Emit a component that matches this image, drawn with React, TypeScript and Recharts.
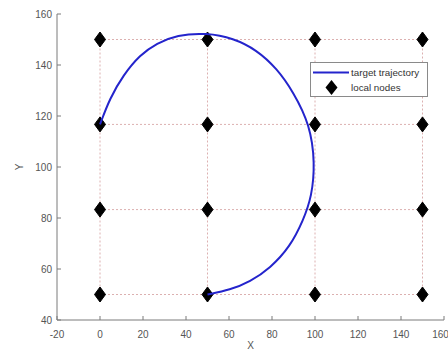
import React from 'react';
import {
  ScatterChart,
  Scatter,
  XAxis,
  YAxis,
  ReferenceLine,
} from 'recharts';

// Node grid coordinates
const nodeX = [0, 50, 100, 150];
const nodeY = [50, 83.3, 116.7, 150];

// Target trajectory
const trajX = [0, 4.6, 10.8, 18.6, 26.4, 35.7, 49.6, 62, 72.9, 82.2, 89.9, 97.7, 100, 98.5, 94.6, 88.4, 79.1, 69.8, 60.5, 50];
const trajY = [116.7, 127, 136, 144, 148.5, 151.8, 152.6, 150.5, 145.9, 138.7, 129.5, 116.5, 101.5, 88.4, 79.2, 68.7, 60.3, 55, 51.8, 50];

const xTicks = [-20, 0, 20, 40, 60, 80, 100, 120, 140, 160];
const yTicks = [40, 60, 80, 100, 120, 140, 160];

const legendItems = ['target trajectory', 'local nodes'];

const trajData = trajX.map((x, i) => ({ x, y: trajY[i] }));
const nodeData = nodeY.flatMap((y) => nodeX.map((x) => ({ x, y })));

const AXIS = '#7a7a7a';
const TICK = '#555';
const FONT = '"Liberation Sans", Arial, sans-serif';
const GRID = '#dcb0b0';
const BLUE = '#2424cc';

const Diamond = (props: any) => {
  const { cx, cy } = props;
  if (cx == null || cy == null) return <g />;
  const w = 5.5;
  const h = 7.5;
  return (
    <polygon
      points={`${cx},${cy - h} ${cx + w},${cy} ${cx},${cy + h} ${cx - w},${cy}`}
      fill="#000"
      stroke="#000"
      strokeWidth={1}
    />
  );
};

const LegendBox = () => (
  <div
    style={{
      position: 'absolute',
      left: 310,
      top: 62,
      width: 118,
      border: '1px solid #8a8a8a',
      background: '#fff',
      padding: '2px 0 1px 0',
      fontFamily: FONT,
      fontSize: 9.8,
      color: '#333',
      boxSizing: 'border-box',
    }}
  >
    {legendItems.map((name, i) => (
      <div key={name} style={{ display: 'flex', alignItems: 'center', height: 15 }}>
        <svg width={40} height={15} style={{ flex: 'none' }}>
          {i === 0 ? (
            <line x1={2} y1={7.5} x2={38} y2={7.5} stroke={BLUE} strokeWidth={2} />
          ) : (
            <polygon points="20.5,0 26.5,7.5 20.5,15 14.5,7.5" fill="#000" />
          )}
        </svg>
        <span style={{ marginLeft: 0, whiteSpace: 'nowrap' }}>{name}</span>
      </div>
    ))}
  </div>
);

export default function App() {
  return (
    <div style={{ position: 'absolute', left: 0, top: 0, width: 448, height: 354, background: '#fff' }}>
      <ScatterChart
        width={448}
        height={354}
        margin={{ top: 14, right: 4, bottom: 4, left: 0 }}
      >
        <XAxis
          xAxisId="b"
          type="number"
          dataKey="x"
          domain={[-20, 160]}
          ticks={xTicks}
          allowDataOverflow
          height={30}
          stroke={AXIS}
          tickSize={-4}
          tickMargin={15}
          tick={{ fill: TICK, fontSize: 10, fontFamily: FONT }}
          label={{ value: 'X', position: 'insideBottom', offset: 1, style: { fill: TICK, fontSize: 10, fontFamily: FONT } }}
        />
        <XAxis
          xAxisId="t"
          orientation="top"
          type="number"
          dataKey="x"
          domain={[-20, 160]}
          ticks={xTicks}
          allowDataOverflow
          height={0}
          mirror
          stroke={AXIS}
          tickSize={4}
          tick={false}
        />
        <YAxis
          yAxisId="l"
          type="number"
          dataKey="y"
          domain={[40, 160]}
          ticks={yTicks}
          allowDataOverflow
          width={57}
          stroke={AXIS}
          tickSize={-4}
          tickMargin={9}
          tick={{ fill: TICK, fontSize: 10, fontFamily: FONT }}
          label={{ value: 'Y', position: 'insideLeft', angle: -90, offset: 19, style: { fill: TICK, fontSize: 10, fontFamily: FONT, textAnchor: 'middle' } }}
        />
        <YAxis
          yAxisId="r"
          orientation="right"
          type="number"
          dataKey="y"
          domain={[40, 160]}
          ticks={yTicks}
          allowDataOverflow
          width={0}
          mirror
          stroke={AXIS}
          tickSize={4}
          tick={false}
        />
        {nodeY.map((y) => (
          <ReferenceLine
            key={'h' + y}
            xAxisId="b"
            yAxisId="l"
            segment={[
              { x: nodeX[0], y },
              { x: nodeX[nodeX.length - 1], y },
            ]}
            stroke={GRID}
            strokeDasharray="2 2"
            strokeWidth={1}
          />
        ))}
        {nodeX.map((x) => (
          <ReferenceLine
            key={'v' + x}
            xAxisId="b"
            yAxisId="l"
            segment={[
              { x, y: nodeY[0] },
              { x, y: nodeY[nodeY.length - 1] },
            ]}
            stroke={GRID}
            strokeDasharray="2 2"
            strokeWidth={1}
          />
        ))}
        <Scatter
          name="local nodes"
          xAxisId="b"
          yAxisId="l"
          data={nodeData}
          shape={Diamond}
          fill="#000"
          isAnimationActive={false}
        />
        <Scatter
          name="target trajectory"
          xAxisId="b"
          yAxisId="l"
          data={trajData}
          line={{ stroke: BLUE, strokeWidth: 2 }}
          lineJointType="basis"
          shape={() => <g />}
          fill={BLUE}
          isAnimationActive={false}
        />
      </ScatterChart>
      <LegendBox />
    </div>
  );
}
